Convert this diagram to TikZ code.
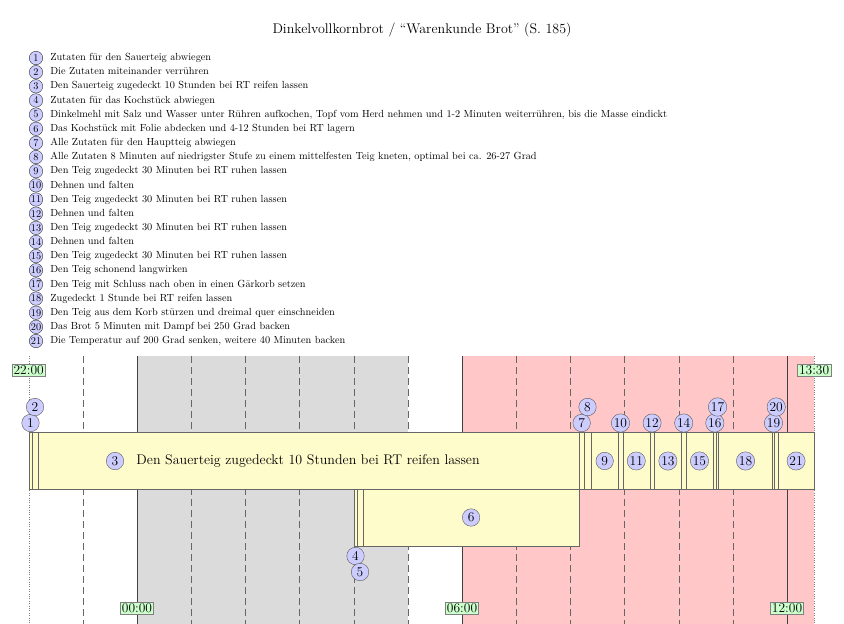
\documentclass[tikz,border=0pt]{standalone}
\usepackage{fontspec}
\usetikzlibrary{positioning}
\tikzset{
	nr/.style={circle, draw=black!65, fill=blue!20, inner sep=0.8pt, minimum size=17.5pt, font=\fontsize{13.5}{15}\selectfont},
	listnr/.style={circle, draw=black!80, fill=blue!20, inner sep=0.3pt, minimum size=13.5pt, font=\fontsize{10.3}{12}\selectfont},
	uhr/.style={draw=black!50, fill=green!20, inner sep=1.5pt, font=\fontsize{13.5}{15}\selectfont},
	balken/.style={draw=black!60, fill=yellow!20},
	stunde/.style={black!60, dash pattern=on 7pt off 4pt},
	listtext/.style={inner sep=0pt, text height=1.5ex, text depth=.25ex, font=\fontsize{10.3}{12}\selectfont},
}
\def\schritt(#1:#2:#3){\draw[balken] (#1,#3) rectangle (#2,{#3+57});}

\begin{document}
\begin{tikzpicture}[x=1pt, y=-1pt]
		\useasboundingbox (0,0) rectangle (844,624);
		%%%%% TITLE %%%%%
		\node[font=\fontsize{14}{16}\selectfont] (titel) at (422, 30) {Dinkelvollkornbrot / “Warenkunde Brot” (S. 185)};
		
		%%%%% LIST %%%%%
		\foreach \i/\txt in {
			1/{Zutaten für den Sauerteig abwiegen},
			2/{Die Zutaten miteinander verrühren},
			3/{Den Sauerteig zugedeckt 10 Stunden bei RT reifen lassen},
			4/{Zutaten für das Kochstück abwiegen},
			5/{Dinkelmehl mit Salz und Wasser unter Rühren aufkochen, Topf vom Herd nehmen und 1-2 Minuten weiterrühren, bis die Masse eindickt},
			6/{Das Kochstück mit Folie abdecken und 4-12 Stunden bei RT lagern},
			7/{Alle Zutaten für den Hauptteig abwiegen},
			8/{Alle Zutaten 8 Minuten auf niedrigster Stufe zu einem mittelfesten Teig kneten, optimal bei ca. 26-27 Grad},
			9/{Den Teig zugedeckt 30 Minuten bei RT ruhen lassen},
			10/{Dehnen und falten},
			11/{Den Teig zugedeckt 30 Minuten bei RT ruhen lassen},
			12/{Dehnen und falten},
			13/{Den Teig zugedeckt 30 Minuten bei RT ruhen lassen},
			14/{Dehnen und falten},
			15/{Den Teig zugedeckt 30 Minuten bei RT ruhen lassen},
			16/{Den Teig schonend langwirken},
			17/{Den Teig mit Schluss nach oben in einen Gärkorb setzen},
			18/{Zugedeckt 1 Stunde bei RT reifen lassen},
			19/{Den Teig aus dem Korb stürzen und dreimal quer einschneiden},
			20/{Das Brot 5 Minuten mit Dampf bei 250 Grad backen},
			21/{Die Temperatur auf 200 Grad senken, weitere 40 Minuten backen}}
		{
			\node[listnr] (l\i) at (36, {43.85+\i*14.15}) {\i};
			\node[listtext, right=7.2pt of l\i] (lt\i) {\txt};
		}
		
		%%%%% TIMELINE (x in minutes from 22:00) %%%%%
		\begin{scope}[x=0.9028pt, xshift=28.7pt]
			% night and oven
			\fill[black!14] (120, 356) rectangle (420, 624);
			\fill[red!22] (480, 356) rectangle (870, 624);
			
			% hours
			\foreach \h in {60,180,240,300,360,420,540,600,660,720,780}
				\draw[stunde] (\h, 356) -- (\h, 624);
			\foreach \h in {120,480,840}
				\draw[black!75] (\h, 356) -- (\h, 624);
			\foreach \h in {0,870}
				\draw[black!50, dotted] (\h, 356) -- (\h, 624);
			
			% steps
			\schritt(0:4:432)
			\schritt(4:10:432)
			\schritt(10:610:432)
			\schritt(360:364:489)
			\schritt(364:370:489)
			\schritt(370:610:489)
			\schritt(610:615:432)
			\schritt(615:623:432)
			\schritt(623:653:432)
			\schritt(653:658:432)
			\schritt(658:688:432)
			\schritt(688:693:432)
			\schritt(693:723:432)
			\schritt(723:728:432)
			\schritt(728:758:432)
			\schritt(758:762:432)
			\schritt(762:764:432)
			\schritt(764:824:432)
			\schritt(824:826:432)
			\schritt(826:830:432)
			\schritt(830:870:432)
			
			% numbers above
			\node[nr] (s1) at (2, 423) {1};
			\node[nr] (s2) at (7, 407) {2};
			\node[nr] (s7) at (612.5, 423) {7};
			\node[nr] (s8) at (619, 407) {8};
			\node[nr] (s10) at (655.5, 423) {10};
			\node[nr] (s12) at (690.5, 423) {12};
			\node[nr] (s14) at (725.5, 423) {14};
			\node[nr] (s16) at (760, 423) {16};
			\node[nr] (s17) at (763, 407) {17};
			\node[nr] (s19) at (825, 423) {19};
			\node[nr] (s20) at (828, 407) {20};
			
			% numbers inside
			\node[nr] (s3) at (95.6, 461) {3};
			\node[right=9pt of s3, font=\fontsize{14}{16}\selectfont] (t3) {Den Sauerteig zugedeckt 10 Stunden bei RT reifen lassen};
			\node[nr] (s6) at (490, 517.5) {6};
			\node[nr] (s9) at (638, 461) {9};
			\node[nr] (s11) at (673, 461) {11};
			\node[nr] (s13) at (708, 461) {13};
			\node[nr] (s15) at (743, 461) {15};
			\node[nr] (s18) at (794, 461) {18};
			\node[nr] (s21) at (850, 461) {21};
			
			% numbers below
			\node[nr] (s4) at (362, 556) {4};
			\node[nr] (s5) at (367, 572) {5};
			
			% clock
			\node[uhr] (u2200) at (0, 370) {22:00};
			\node[uhr] (u1330) at (870, 370) {13:30};
			\node[uhr] (u0000) at (120, 608) {00:00};
			\node[uhr] (u0600) at (480, 608) {06:00};
			\node[uhr] (u1200) at (840, 608) {12:00};
		\end{scope}
		%%%%% END %%%%%
	\end{tikzpicture}
\end{document}
